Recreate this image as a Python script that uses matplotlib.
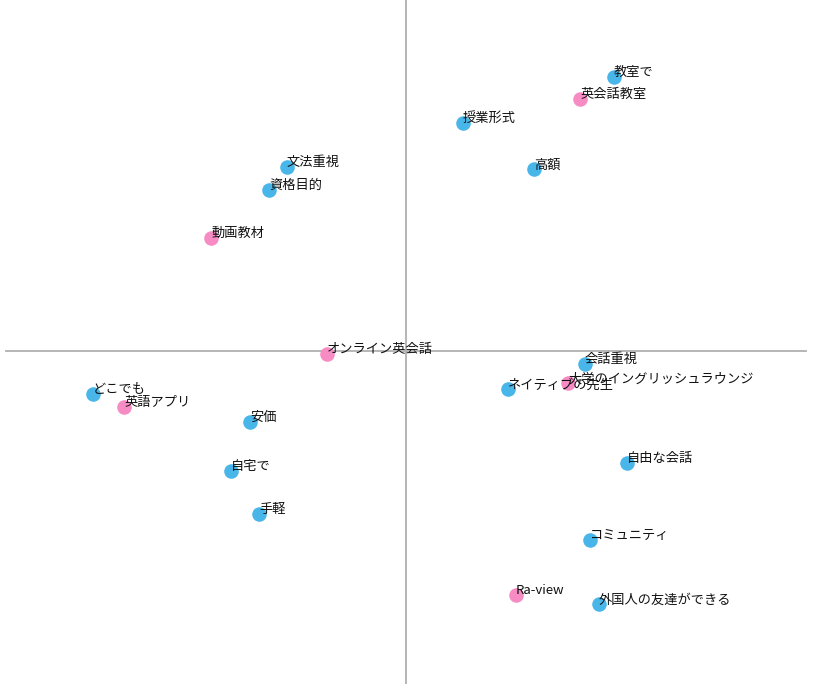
import matplotlib
matplotlib.use("Agg")
import matplotlib.pyplot as plt

plt.rcParams['font.family'] = ['Noto Sans CJK JP', 'DejaVu Sans']

labels = ["教室で", "英会話教室", "授業形式", "高額", "文法重視", "資格目的", "動画教材",
          "オンライン英会話", "会話重視", "大学のイングリッシュラウンジ", "ネイティブの先生",
          "どこでも", "英語アプリ", "安価", "自宅で", "手軽", "自由な会話", "コミュニティ",
          "Ra-view", "外国人の友達ができる"]
dim1 = [1.04, 0.87, 0.285, 0.64, -0.595, -0.685, -0.975,
        -0.395, 0.895, 0.81, 0.51,
        -1.565, -1.41, -0.78, -0.875, -0.735, 1.105, 0.92,
        0.55, 0.965]
dim2 = [1.37, 1.26, 1.14, 0.91, 0.92, 0.805, 0.565,
        -0.015, -0.065, -0.16, -0.19,
        -0.215, -0.28, -0.355, -0.6, -0.815, -0.56, -0.945,
        -1.22, -1.265]
groups = ["row", "col", "row", "row", "row", "row", "col",
          "col", "row", "col", "row",
          "row", "col", "row", "row", "row", "row", "row",
          "col", "row"]

colors = {"row": "#48b6e9", "col": "#f78bc4"}

fig = plt.figure(figsize=(8.4, 6.84), dpi=100)
ax = fig.add_axes([0, 0, 1, 1])
ax.set_xlim(-2.03, 2.17)
ax.set_ylim(-1.665, 1.755)
ax.axis('off')

ax.plot([-2.0, 2.0], [0, 0], color="#b0b0b0", lw=1.3, zorder=1)
ax.axvline(0, color="#b0b0b0", lw=1.3, zorder=1)

for lab, x, y, g in zip(labels, dim1, dim2, groups):
    ax.scatter(x, y, s=110, color=colors[g], zorder=2, linewidths=0)
    ax.annotate(lab, (x, y), xytext=(0, 3), textcoords="offset points",
                ha="left", va="center", fontsize=9.5, color="#111111", zorder=3)

fig.savefig("out.png", dpi=100)
